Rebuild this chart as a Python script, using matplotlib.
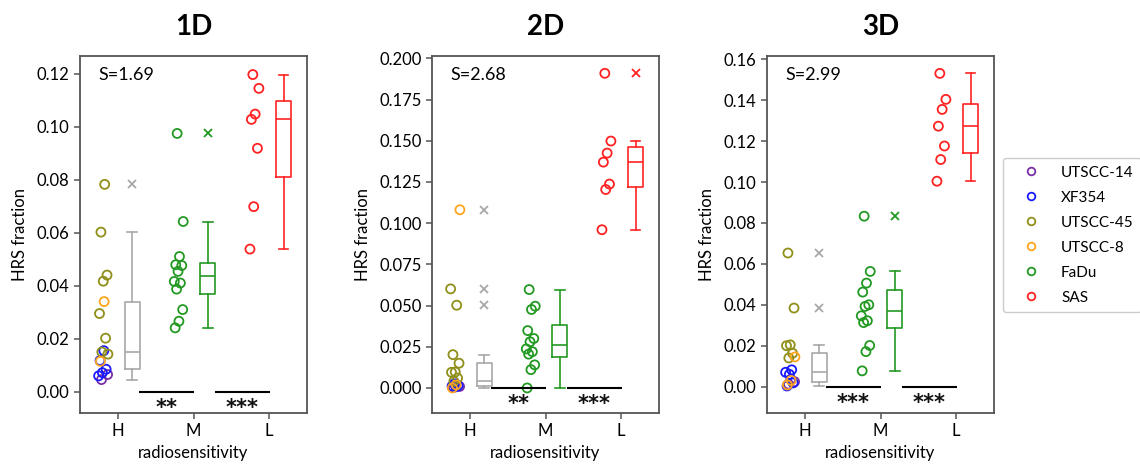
import numpy as np
import matplotlib
matplotlib.use("Agg")
import matplotlib.pyplot as plt
from matplotlib.lines import Line2D

plt.rcParams["font.family"] = ["Lato", "DejaVu Sans"]

# ---- data -------------------------------------------------------------
CELL_LINES = ["UTSCC-14", "XF354", "UTSCC-45", "UTSCC-8", "FaDu", "SAS"]
GROUP_LABELS = ["H", "M", "L"]
GROUP_MEMBERS = [["UTSCC-14", "XF354", "UTSCC-45", "UTSCC-8"], ["FaDu"], ["SAS"]]

TITLES = ["1D", "2D", "3D"]
S_VALUES = [1.69, 2.68, 2.99]
SIGNIF = [["**", "***"], ["**", "***"], ["***", "***"]]

HRS_1D = {
    "UTSCC-14": [0.0046, 0.0065],
    "XF354": [0.0155, 0.0118, 0.0085, 0.0072, 0.0060],
    "UTSCC-45": [0.0782, 0.0602, 0.0440, 0.0417, 0.0295, 0.0202, 0.0150, 0.0142],
    "UTSCC-8": [0.0340, 0.0115],
    "FaDu": [0.0974, 0.0642, 0.0510, 0.0479, 0.0476, 0.0454, 0.0416, 0.0410,
             0.0387, 0.0310, 0.0266, 0.0241],
    "SAS": [0.1196, 0.1144, 0.1047, 0.1027, 0.0918, 0.0698, 0.0538],
}
HRS_2D = {
    "UTSCC-14": [0.0004, 0.0009],
    "XF354": [0.0007, 0.0011, 0.0014, 0.0025],
    "UTSCC-45": [0.0601, 0.0502, 0.0202, 0.0150, 0.0097, 0.0095, 0.0060, 0.0040],
    "UTSCC-8": [0.1081, 0.0018, 0.0000],
    "FaDu": [0.0597, 0.0496, 0.0476, 0.0348, 0.0300, 0.0280, 0.0237, 0.0220,
             0.0205, 0.0140, 0.0111, 0.0000],
    "SAS": [0.1909, 0.1498, 0.1425, 0.1370, 0.1237, 0.1204, 0.0960],
}
HRS_3D = {
    "UTSCC-14": [0.0012, 0.0024, 0.0035],
    "XF354": [0.0003, 0.0018, 0.0060, 0.0070, 0.0082],
    "UTSCC-45": [0.0653, 0.0384, 0.0204, 0.0200, 0.0163, 0.0140],
    "UTSCC-8": [0.0145, 0.0030, 0.0008],
    "FaDu": [0.0833, 0.0563, 0.0506, 0.0462, 0.0400, 0.0392, 0.0346, 0.0322,
             0.0313, 0.0201, 0.0171, 0.0077],
    "SAS": [0.1531, 0.1404, 0.1355, 0.1273, 0.1176, 0.1110, 0.1004],
}
PANELS = [HRS_1D, HRS_2D, HRS_3D]

# ---- style --------------------------------------------------------------
CELL_COLORS = {
    "UTSCC-14": "#7a2fa8",
    "XF354": "#1a1aff",
    "UTSCC-45": "#8f8f1a",
    "UTSCC-8": "#ffa51f",
    "FaDu": "#229922",
    "SAS": "#ff2222",
}
BOX_COLORS = ["#a8a8a8", "#229922", "#ff2222"]
Y_LIMITS = [(-0.008, 0.1266), (-0.0152, 0.2014), (-0.0129, 0.1616)]
Y_STEPS = [0.02, 0.025, 0.02]
AX_LEFTS = [80, 432, 767]
W, H = 1140, 469
AX_W, AX_TOP, AX_BOTTOM = 227, 56, 413
SPINE = "#555555"


def spread(n, width):
    """Deterministic low-discrepancy offsets to keep overlapping points visible."""
    k = np.arange(n)
    return ((k * 0.6180339887 + 0.3) % 1.0 - 0.5) * width


fig = plt.figure(figsize=(W / 100, H / 100), dpi=100)

for p, data in enumerate(PANELS):
    ax = fig.add_axes([AX_LEFTS[p] / W, 1 - AX_BOTTOM / H, AX_W / W,
                       (AX_BOTTOM - AX_TOP) / H])

    group_values = []
    for g, members in enumerate(GROUP_MEMBERS):
        vals = []
        cols = []
        for name in members:
            vals += data[name]
            cols += [CELL_COLORS[name]] * len(data[name])
        group_values.append(vals)
        xs = g - 0.19 + spread(len(vals), 0.13)
        ax.scatter(xs, vals, s=42, facecolors="none", edgecolors=cols,
                   linewidths=1.3, zorder=3)

    for g, vals in enumerate(group_values):
        c = BOX_COLORS[g]
        ax.boxplot([vals], positions=[g + 0.19], widths=0.2, capwidths=0.13,
                   manage_ticks=False,
                   boxprops=dict(color=c, linewidth=1.2),
                   whiskerprops=dict(color=c, linewidth=1.2),
                   capprops=dict(color=c, linewidth=1.2),
                   medianprops=dict(color=c, linewidth=1.2),
                   flierprops=dict(marker="x", markeredgecolor=c,
                                   markersize=6, markeredgewidth=1.3))

    # significance bars between neighbouring groups
    for k, stars in enumerate(SIGNIF[p]):
        ax.plot([k + 0.28, k + 1.01], [0, 0], color="black", lw=1.5,
                solid_capstyle="butt", zorder=4)
        ax.annotate(stars, xy=(k + 0.64, 0), xytext=(0, -4.5),
                    textcoords="offset points", ha="center", va="top",
                    fontsize=15, fontweight="bold", color="#111111",
                    family="DejaVu Sans")

    ax.text(0.08, 0.947, f"S={S_VALUES[p]:.2f}", transform=ax.transAxes,
            ha="left", va="center", fontsize=13)

    ax.set_xlim(-0.5, 2.5)
    ax.set_ylim(*Y_LIMITS[p])
    ax.set_yticks(np.arange(0, Y_LIMITS[p][1] + 1e-9, Y_STEPS[p]))
    ax.set_xticks(range(3))
    ax.set_xticklabels(GROUP_LABELS)
    ax.tick_params(labelsize=12, length=4, width=1.1, color=SPINE)
    ax.set_xlabel("radiosensitivity", fontsize=12, labelpad=4)
    ax.set_ylabel("HRS fraction", fontsize=12, labelpad=6)
    ax.set_title(TITLES[p], fontsize=20, fontweight="bold", pad=15)
    for sp in ax.spines.values():
        sp.set_color(SPINE)
        sp.set_linewidth(1.3)

handles = [Line2D([], [], marker="o", ls="none", mfc="none",
                  mec=CELL_COLORS[n], mew=1.3, ms=5.5) for n in CELL_LINES]
fig.legend(handles, CELL_LINES, loc="upper left",
           bbox_to_anchor=(1003 / W, 1 - 158 / H), fontsize=11,
           handlelength=2.6, handletextpad=0.7, labelspacing=0.72,
           borderpad=0.5, borderaxespad=0, frameon=True, fancybox=True,
           edgecolor="#cccccc", framealpha=1)

fig.savefig("out.png", dpi=100)
